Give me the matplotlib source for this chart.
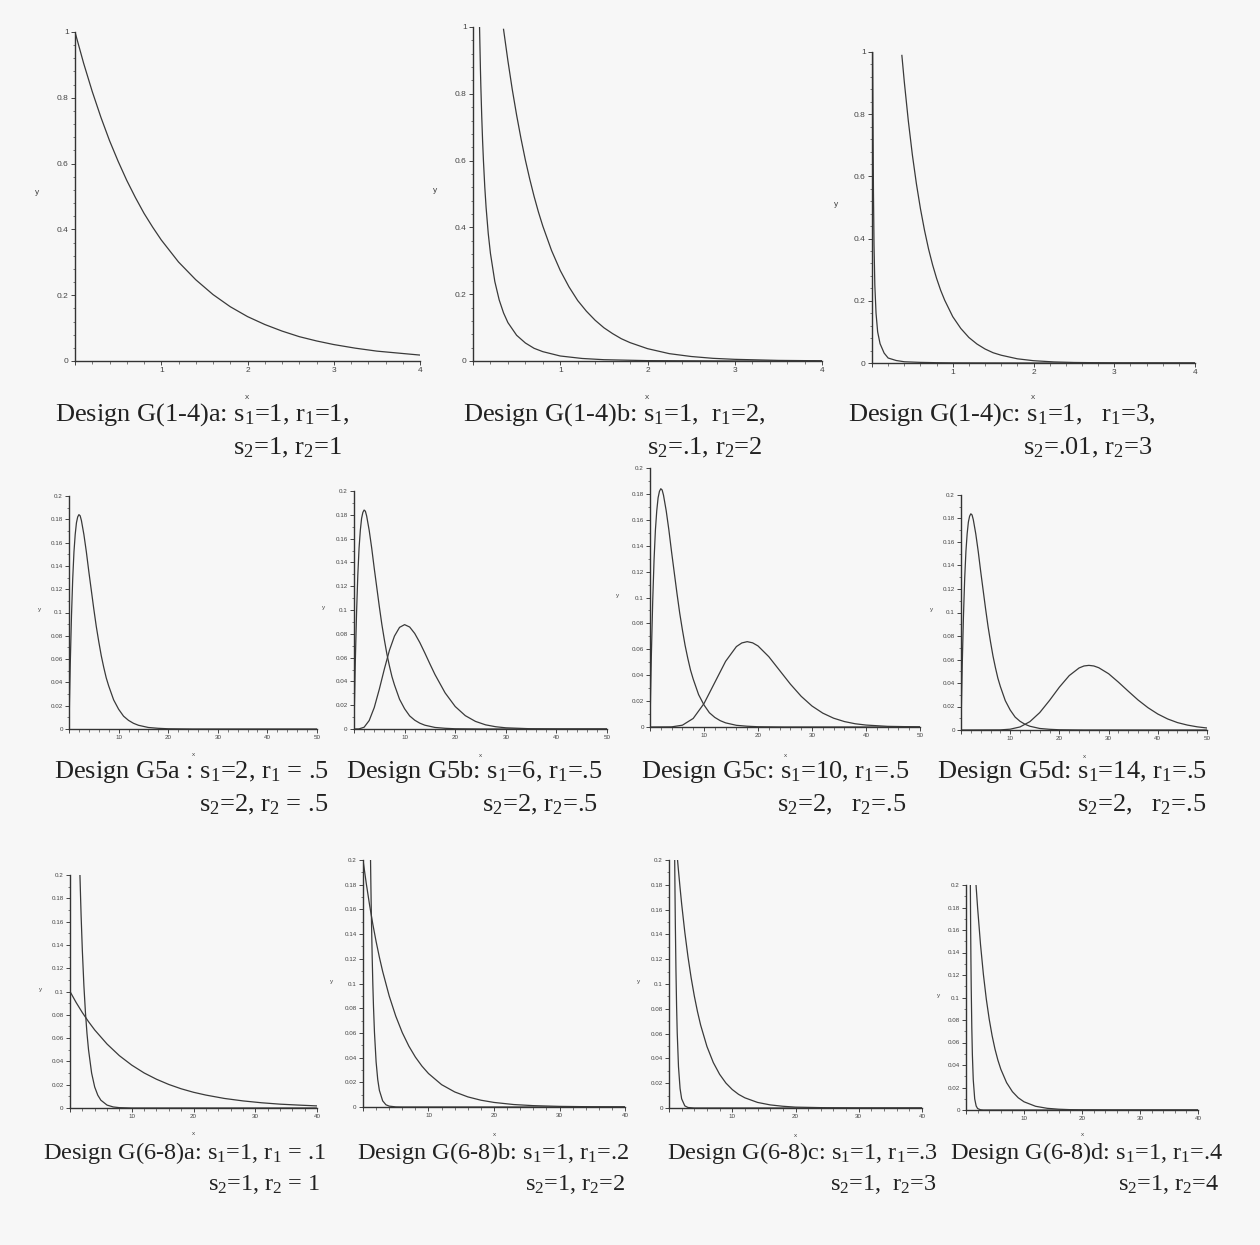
import numpy as np
import matplotlib.pyplot as plt
from matplotlib.ticker import AutoMinorLocator, FormatStrFormatter

plt.rcParams['font.family'] = 'Liberation Serif'
plt.rcParams['mathtext.fontset'] = 'custom'
plt.rcParams['mathtext.rm'] = 'Liberation Serif'

# ---- curves ----
# G(1-4)a : both densities coincide
g14a_x = [0, 0.1, 0.2, 0.3, 0.4, 0.5, 0.6, 0.7, 0.8, 0.9, 1.0, 1.2, 1.4, 1.6, 1.8, 2.0, 2.2, 2.4, 2.6, 2.8, 3.0, 3.25, 3.5, 3.75, 4.0]
g14a_y = [1.0, 0.905, 0.819, 0.741, 0.670, 0.607, 0.549, 0.497, 0.449, 0.407, 0.368, 0.301, 0.247, 0.202, 0.165, 0.135, 0.111, 0.091, 0.074, 0.061, 0.050, 0.039, 0.030, 0.024, 0.018]

# G(1-4)b
g14b_x1 = [0.35, 0.4, 0.45, 0.5, 0.55, 0.6, 0.65, 0.7, 0.75, 0.8, 0.9, 1.0, 1.1, 1.2, 1.3, 1.4, 1.5, 1.6, 1.7, 1.8, 2.0, 2.25, 2.5, 2.75, 3.0, 3.5, 4.0]
g14b_y1 = [0.993, 0.899, 0.813, 0.736, 0.666, 0.602, 0.545, 0.493, 0.446, 0.404, 0.331, 0.271, 0.222, 0.181, 0.149, 0.122, 0.0996, 0.082, 0.0667, 0.055, 0.037, 0.022, 0.0135, 0.008, 0.005, 0.0018, 0.0007]
g14b_x2 = [0.075, 0.085, 0.09, 0.1, 0.11, 0.12, 0.135, 0.15, 0.175, 0.2, 0.25, 0.3, 0.35, 0.4, 0.5, 0.6, 0.7, 0.8, 1.0, 1.25, 1.5, 2.0, 3.0, 4.0]
g14b_y2 = [1.0, 0.874, 0.822, 0.733, 0.659, 0.598, 0.521, 0.460, 0.381, 0.322, 0.238, 0.183, 0.144, 0.115, 0.077, 0.054, 0.038, 0.028, 0.015, 0.0076, 0.0039, 0.0011, 0.0001, 0.0]

# G(1-4)c
g14c_x1 = [0.37, 0.4, 0.45, 0.5, 0.55, 0.6, 0.65, 0.7, 0.75, 0.8, 0.85, 0.9, 1.0, 1.1, 1.2, 1.3, 1.4, 1.5, 1.6, 1.8, 2.0, 2.25, 2.5, 3.0, 4.0]
g14c_y1 = [0.989, 0.904, 0.778, 0.669, 0.576, 0.496, 0.427, 0.367, 0.316, 0.272, 0.234, 0.202, 0.149, 0.111, 0.082, 0.061, 0.045, 0.033, 0.025, 0.0135, 0.0074, 0.0035, 0.0017, 0.0004, 0.0]
g14c_x2 = [0.008, 0.012, 0.018, 0.025, 0.035, 0.05, 0.07, 0.1, 0.15, 0.2, 0.3, 0.4, 0.6, 0.8, 1.0, 2.0, 4.0]
g14c_y2 = [1.0, 0.80, 0.55, 0.38, 0.25, 0.16, 0.10, 0.062, 0.032, 0.016, 0.008, 0.004, 0.002, 0.001, 0.0005, 0.0, 0.0]

# G5 : common curve s=2, r=.5
g5_x1 = [0, 0.1, 0.25, 0.5, 0.75, 1, 1.25, 1.5, 1.75, 2, 2.25, 2.5, 3, 3.5, 4, 4.5, 5, 5.5, 6, 6.5, 7, 7.5, 8, 9, 10, 11, 12, 13, 14, 16, 18, 20, 25, 30, 40, 50]
g5_y1 = [0, 0.024, 0.055, 0.097, 0.129, 0.152, 0.167, 0.177, 0.182, 0.184, 0.183, 0.179, 0.167, 0.152, 0.135, 0.119, 0.103, 0.088, 0.075, 0.063, 0.053, 0.044, 0.037, 0.025, 0.017, 0.011, 0.0074, 0.0049, 0.0032, 0.0013, 0.0006, 0.0002, 0, 0, 0, 0]

g5b_x = [0, 1, 2, 3, 4, 5, 6, 7, 8, 9, 10, 11, 12, 13, 14, 15, 16, 18, 20, 22, 24, 26, 28, 30, 35, 40, 50]
g5b_y = [0, 0.0001, 0.0015, 0.0071, 0.018, 0.0334, 0.0504, 0.0661, 0.0781, 0.0854, 0.0877, 0.0857, 0.0803, 0.0727, 0.0639, 0.0547, 0.0458, 0.0304, 0.0189, 0.0112, 0.0064, 0.0035, 0.0019, 0.001, 0.0002, 0, 0]

g5c_x = [0, 4, 6, 8, 10, 12, 14, 16, 17, 18, 19, 20, 22, 24, 26, 28, 30, 32, 34, 36, 38, 40, 44, 50]
g5c_y = [0, 0.0001, 0.0014, 0.0066, 0.0181, 0.0344, 0.0507, 0.0621, 0.0649, 0.0659, 0.0650, 0.0626, 0.0543, 0.0437, 0.0331, 0.0237, 0.0162, 0.0107, 0.0068, 0.0042, 0.0025, 0.0015, 0.0005, 0.0001]

g5d_x = [0, 8, 10, 12, 14, 16, 18, 20, 22, 24, 25, 26, 27, 28, 30, 32, 34, 36, 38, 40, 42, 44, 46, 48, 50]
g5d_y = [0, 0.0001, 0.0007, 0.0026, 0.0071, 0.0148, 0.0252, 0.0365, 0.0463, 0.0528, 0.0545, 0.0550, 0.0545, 0.0530, 0.0479, 0.0407, 0.0330, 0.0255, 0.0190, 0.0136, 0.0094, 0.0063, 0.0042, 0.0027, 0.0017]

# G(6-8)a
g68a_x1 = [0, 1, 2, 3, 4, 6, 8, 10, 12, 14, 16, 18, 20, 22, 25, 28, 31, 34, 37, 40]
g68a_y1 = [0.1, 0.0905, 0.0819, 0.0741, 0.067, 0.0549, 0.0449, 0.0368, 0.0301, 0.0247, 0.0202, 0.0165, 0.0135, 0.0111, 0.0082, 0.0061, 0.0045, 0.0033, 0.0025, 0.0018]
g68a_x2 = [1.61, 1.7, 1.8, 1.9, 2.0, 2.25, 2.5, 2.75, 3.0, 3.5, 4.0, 4.5, 5, 6, 7, 8, 10, 40]
g68a_y2 = [0.2, 0.183, 0.165, 0.150, 0.135, 0.105, 0.082, 0.064, 0.050, 0.030, 0.018, 0.011, 0.0067, 0.0025, 0.0009, 0.0003, 0, 0]

# G(6-8)b
g68b_x1 = [0, 0.5, 1, 1.5, 2, 2.5, 3, 4, 5, 6, 7, 8, 9, 10, 12, 14, 16, 18, 20, 23, 26, 30, 35, 40]
g68b_y1 = [0.2, 0.181, 0.1637, 0.148, 0.134, 0.1213, 0.1098, 0.0899, 0.0736, 0.0602, 0.0493, 0.0404, 0.0331, 0.0271, 0.0181, 0.0122, 0.0082, 0.0055, 0.0037, 0.002, 0.0011, 0.0005, 0.0002, 0.0001]
g68b_x2 = [1.15, 1.2, 1.25, 1.3, 1.4, 1.5, 1.6, 1.75, 2.0, 2.25, 2.5, 3.0, 3.5, 4.0, 5.0, 6.0, 40]
g68b_y2 = [0.2, 0.181, 0.164, 0.149, 0.122, 0.0996, 0.0815, 0.0604, 0.0366, 0.0222, 0.0135, 0.005, 0.0018, 0.0007, 0.0001, 0, 0]

# G(6-8)c
g68c_x1 = [1.35, 1.5, 1.75, 2, 2.5, 3, 3.5, 4, 4.5, 5, 6, 7, 8, 9, 10, 11, 12, 14, 16, 18, 20, 25, 30, 40]
g68c_y1 = [0.2, 0.1913, 0.1775, 0.1646, 0.1417, 0.122, 0.105, 0.0904, 0.0778, 0.0669, 0.0496, 0.0367, 0.0272, 0.0201, 0.0149, 0.011, 0.0082, 0.0045, 0.0025, 0.0014, 0.0007, 0.0002, 0, 0]
g68c_x2 = [0.9, 0.95, 1.0, 1.1, 1.2, 1.3, 1.5, 1.75, 2, 2.5, 3, 4, 40]
g68c_y2 = [0.2, 0.173, 0.149, 0.111, 0.082, 0.0606, 0.0333, 0.0157, 0.0074, 0.0017, 0.0004, 0, 0]

# G(6-8)d
g68d_x1 = [1.73, 2, 2.5, 3, 3.5, 4, 4.5, 5, 5.5, 6, 7, 8, 9, 10, 12, 14, 16, 18, 20, 25, 40]
g68d_y1 = [0.2, 0.1798, 0.1472, 0.1205, 0.0986, 0.0808, 0.0661, 0.0541, 0.0443, 0.0363, 0.0243, 0.0163, 0.0109, 0.0073, 0.0033, 0.0015, 0.0007, 0.0003, 0.0001, 0, 0]
g68d_x2 = [0.75, 0.8, 0.85, 0.9, 1.0, 1.1, 1.25, 1.5, 1.75, 2, 2.5, 3, 40]
g68d_y2 = [0.2, 0.163, 0.133, 0.109, 0.0733, 0.0491, 0.027, 0.0099, 0.0036, 0.0013, 0.0002, 0, 0]

# captions (first line, second line)
captions = [
    (r"Design G(1-4)a: $\mathregular{s_1}$=1, $\mathregular{r_1}$=1,", r"$\mathregular{s_2}$=1, $\mathregular{r_2}$=1"),
    (r"Design G(1-4)b: $\mathregular{s_1}$=1,  $\mathregular{r_1}$=2,", r"$\mathregular{s_2}$=.1, $\mathregular{r_2}$=2"),
    (r"Design G(1-4)c: $\mathregular{s_1}$=1,   $\mathregular{r_1}$=3,", r"$\mathregular{s_2}$=.01, $\mathregular{r_2}$=3"),
    (r"Design G5a : $\mathregular{s_1}$=2, $\mathregular{r_1}$ = .5", r"$\mathregular{s_2}$=2, $\mathregular{r_2}$ = .5"),
    (r"Design G5b: $\mathregular{s_1}$=6, $\mathregular{r_1}$=.5", r"$\mathregular{s_2}$=2, $\mathregular{r_2}$=.5"),
    (r"Design G5c: $\mathregular{s_1}$=10, $\mathregular{r_1}$=.5", r"$\mathregular{s_2}$=2,   $\mathregular{r_2}$=.5"),
    (r"Design G5d: $\mathregular{s_1}$=14, $\mathregular{r_1}$=.5", r"$\mathregular{s_2}$=2,   $\mathregular{r_2}$=.5"),
    (r"Design G(6-8)a: $\mathregular{s_1}$=1, $\mathregular{r_1}$ = .1", r"$\mathregular{s_2}$=1, $\mathregular{r_2}$ = 1"),
    (r"Design G(6-8)b: $\mathregular{s_1}$=1, $\mathregular{r_1}$=.2", r"$\mathregular{s_2}$=1, $\mathregular{r_2}$=2"),
    (r"Design G(6-8)c: $\mathregular{s_1}$=1, $\mathregular{r_1}$=.3", r"$\mathregular{s_2}$=1,  $\mathregular{r_2}$=3"),
    (r"Design G(6-8)d: $\mathregular{s_1}$=1, $\mathregular{r_1}$=.4", r"$\mathregular{s_2}$=1, $\mathregular{r_2}$=4"),
]

curves = [
    [(g14a_x, g14a_y)],
    [(g14b_x1, g14b_y1), (g14b_x2, g14b_y2)],
    [(g14c_x1, g14c_y1), (g14c_x2, g14c_y2)],
    [(g5_x1, g5_y1)],
    [(g5_x1, g5_y1), (g5b_x, g5b_y)],
    [(g5_x1, g5_y1), (g5c_x, g5c_y)],
    [(g5_x1, g5_y1), (g5d_x, g5d_y)],
    [(g68a_x1, g68a_y1), (g68a_x2, g68a_y2)],
    [(g68b_x1, g68b_y1), (g68b_x2, g68b_y2)],
    [(g68c_x1, g68c_y1), (g68c_x2, g68c_y2)],
    [(g68d_x1, g68d_y1), (g68d_x2, g68d_y2)],
]

# pixel layout: (left, right, top, bottom) of each plot box
boxes = [(75, 420, 32, 361), (473, 822, 27, 361), (872, 1195, 52, 363),
         (69, 317, 496, 729), (354, 607, 491, 729), (650, 920, 468, 727), (961, 1207, 495, 730),
         (70, 317, 875, 1108), (363, 625, 860, 1107), (669, 922, 860, 1108), (966, 1198, 885, 1110)]
# caption: x of line 1 start, right end of line 2, y of line 1, y of line 2
cap_pos = [(55, 342, 415, 448), (463, 763, 415, 448), (848, 1152, 415, 448),
           (54, 328, 772, 805), (346, 598, 772, 805), (641, 906, 772, 805), (937, 1206, 772, 805),
           (43, 320, 1153, 1184), (357, 625, 1153, 1184), (667, 937, 1153, 1184), (950, 1219, 1153, 1184)]

W, H = 1260, 1245
fig = plt.figure(figsize=(W / 100, H / 100), dpi=100, facecolor='#f7f7f7')
ink = '#3a3a3a'

for i in range(11):
    l, r, t, b = boxes[i]
    ax = fig.add_axes([l / W, 1 - b / H, (r - l) / W, (b - t) / H])
    ax.set_facecolor('none')
    if i < 3:
        xmax, ymax, xs, ys, fs = 4, 1, 1, 0.2, 6
    elif i < 7:
        xmax, ymax, xs, ys, fs = 50, 0.2, 10, 0.02, 4.5
    else:
        xmax, ymax, xs, ys, fs = 40, 0.2, 10, 0.02, 4.5
    for cx, cy in curves[i]:
        ax.plot(cx, cy, color=ink, lw=0.9)
    ax.set_xlim(0, xmax)
    ax.set_ylim(0, ymax)
    ax.set_xticks(np.arange(0, xmax + xs / 2, xs))
    ax.set_yticks(np.arange(0, ymax + ys / 2, ys))
    ax.xaxis.set_minor_locator(AutoMinorLocator(5))
    ax.yaxis.set_minor_locator(AutoMinorLocator(5 if i < 3 else 2))
    ax.yaxis.set_major_formatter(FormatStrFormatter('%g'))
    xl = ['%g' % v for v in ax.get_xticks()]
    xl[0] = ''
    ax.set_xticklabels(xl)
    for s in ['top', 'right']:
        ax.spines[s].set_visible(False)
    for s in ['left', 'bottom']:
        ax.spines[s].set_color('#333333')
        ax.spines[s].set_linewidth(1.0)
    ax.tick_params(which='major', length=3, width=0.7, color='#444444', labelsize=fs,
                   labelcolor='#444444', pad=1.5)
    ax.tick_params(which='minor', length=1.8, width=0.6, color='#666666')
    for lab in ax.get_xticklabels() + ax.get_yticklabels():
        lab.set_family('Liberation Sans')
    ax.set_ylabel('y', rotation=0, fontsize=fs, color='#444444', family='Liberation Sans')
    ax.yaxis.set_label_coords(-0.11 if i < 3 else -0.12, 0.5)
    ax.set_xlabel('x', fontsize=fs, color='#444444', family='Liberation Sans')
    ax.xaxis.set_label_coords(0.5, -0.1)

    cfs = 19 if i < 7 else 17.5
    x1, x2, y1, y2 = cap_pos[i]
    fig.text(x1 / W, 1 - y1 / H, captions[i][0], fontsize=cfs, color='#222222', ha='left', va='center')
    fig.text(x2 / W, 1 - y2 / H, captions[i][1], fontsize=cfs, color='#222222', ha='right', va='center')

fig.savefig('out.png', dpi=100, facecolor=fig.get_facecolor())
